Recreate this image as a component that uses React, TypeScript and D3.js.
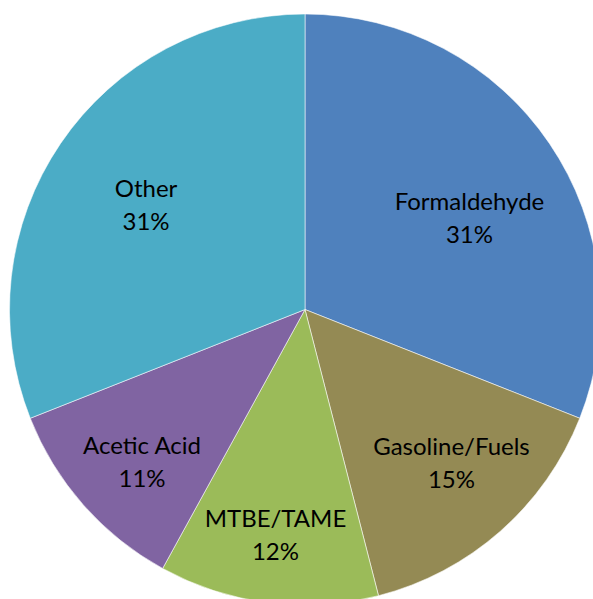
import React from "react";
import * as d3 from "d3";

const categories = ["Formaldehyde", "Gasoline/Fuels", "MTBE/TAME", "Acetic Acid", "Other"];
const values = [31, 15, 12, 11, 31];
const colors = ["#4F81BD", "#948A54", "#9BBB59", "#8064A2", "#4BACC6"];

// layout-only nudges for data labels (px), relative to arc centroid
const labelNudge: [number, number][] = [
  [-6.6, 24.8],
  [9.7, -1.9],
  [-3.6, 20.2],
  [-7.8, 15.7],
  [12.1, 11.8],
];

const W = 593;
const H = 599;
const CX = 305;
const CY = 309.5;
const R = 295.5;

export default function App() {
  const total = d3.sum(values);
  const pie = d3
    .pie<number>()
    .sort(null)
    .value((d) => d)(values);
  const arc = d3.arc<d3.PieArcDatum<number>>().innerRadius(0).outerRadius(R);
  const labelArc = d3
    .arc<d3.PieArcDatum<number>>()
    .innerRadius(R * 0.7)
    .outerRadius(R * 0.7);

  return (
    <svg
      width={W}
      height={H}
      style={{ position: "absolute", left: 0, top: 0, background: "#fff" }}
    >
      <g transform={`translate(${CX},${CY})`}>
        {pie.map((p, i) => (
          <path
            key={categories[i]}
            d={arc(p) || ""}
            fill={colors[i]}
            stroke="#ffffff"
            strokeOpacity={0.55}
            strokeWidth={1}
          />
        ))}
        {pie.map((p, i) => {
          const [x, y] = labelArc.centroid(p);
          const lx = x + labelNudge[i][0];
          const ly = y + labelNudge[i][1];
          const pct = Math.round((values[i] / total) * 100);
          return (
            <text
              key={"l" + categories[i]}
              x={lx}
              y={ly - 8}
              textAnchor="middle"
              fontFamily="Lato, 'Open Sans', sans-serif"
              fontSize={24}
              fill="#000"
            >
              <tspan x={lx} y={ly - 8}>
                {categories[i]}
              </tspan>
              <tspan x={lx} y={ly + 25}>
                {pct + "%"}
              </tspan>
            </text>
          );
        })}
      </g>
    </svg>
  );
}
